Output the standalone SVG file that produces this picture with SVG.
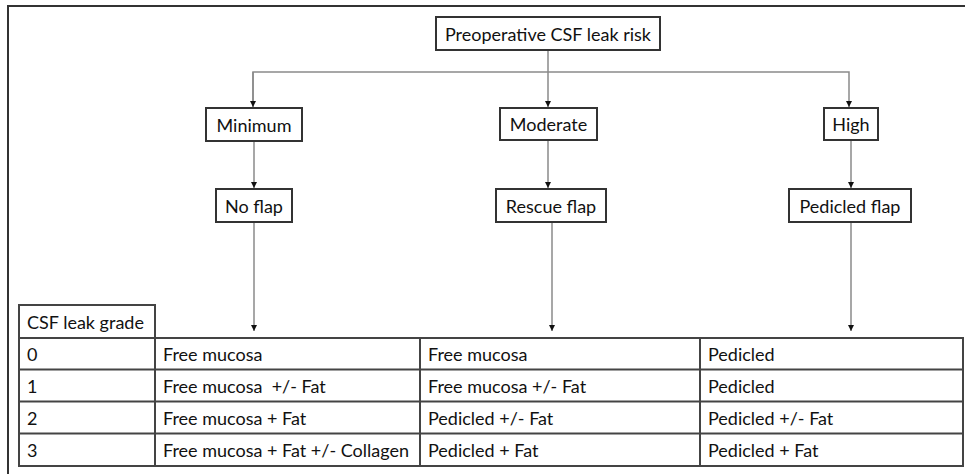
<svg xmlns="http://www.w3.org/2000/svg" width="965" height="474" viewBox="0 0 965 474">
<defs>
<style>
.box{fill:#fff;stroke:#333;stroke-width:2}
.t{font-family:Lato,"Liberation Sans",sans-serif;font-size:18px;fill:#111}
.c{text-anchor:middle}
.con{stroke:#8a8a8a;stroke-width:1.5;fill:none}
.grid{stroke:#444;stroke-width:2;fill:none}
.frame{stroke:#333;stroke-width:2;fill:none}
</style>
<marker id="ah" viewBox="0 0 6 6" refX="6" refY="3" markerWidth="6" markerHeight="6" markerUnits="userSpaceOnUse" orient="auto">
<path d="M0,0 L6,3 L0,6 z" fill="#111"/>
</marker>
</defs>
<rect width="965" height="474" fill="#fff"/>
<path class="frame" d="M965,6 L8,6 L8,474"/>

<g id="connectors">
<path class="con" d="M548,50 L548,107" marker-end="url(#ah)"/>
<path class="con" d="M253,107 L253,72 L849,72 L849,107" marker-end="url(#ah)"/>
<path class="con" d="M253,72 L253,107" marker-end="url(#ah)"/>
<path class="con" d="M254,141 L254,188" marker-end="url(#ah)"/>
<path class="con" d="M548,140 L548,188" marker-end="url(#ah)"/>
<path class="con" d="M851,140 L851,188" marker-end="url(#ah)"/>
<path class="con" d="M254,222 L254,331" marker-end="url(#ah)"/>
<path class="con" d="M552,222 L552,331" marker-end="url(#ah)"/>
<path class="con" d="M851,222 L851,331" marker-end="url(#ah)"/>
</g>

<g id="preop">
<rect class="box" x="436" y="17" width="224" height="33"/>
<text class="t c" x="548" y="41">Preoperative CSF leak risk</text>
</g>
<g id="minimum">
<rect class="box" x="206" y="108" width="96" height="33"/>
<text class="t c" x="254" y="131.5">Minimum</text>
</g>
<g id="moderate">
<rect class="box" x="500" y="108" width="97" height="32"/>
<text class="t c" x="548.5" y="131">Moderate</text>
</g>
<g id="high">
<rect class="box" x="824" y="108" width="54" height="32"/>
<text class="t c" x="851" y="131">High</text>
</g>
<g id="noflap">
<rect class="box" x="216" y="189" width="76" height="33"/>
<text class="t c" x="254" y="212.5">No flap</text>
</g>
<g id="rescueflap">
<rect class="box" x="496" y="189" width="110" height="33"/>
<text class="t c" x="551" y="212.5">Rescue flap</text>
</g>
<g id="pedicledflap">
<rect class="box" x="789" y="189" width="122" height="33"/>
<text class="t c" x="850" y="212.5">Pedicled flap</text>
</g>

<g id="table">
<rect class="grid" x="19" y="305" width="136" height="33"/>
<rect class="grid" x="19" y="338" width="944" height="128"/>
<path class="grid" d="M19,369.5 L963,369.5 M19,401.5 L963,401.5 M19,433.5 L963,433.5 M155,338 L155,466 M420,338 L420,466 M700,338 L700,466"/>
<text class="t" x="27" y="328.5">CSF leak grade</text>
<text class="t" x="27" y="361">0</text>
<text class="t" x="27" y="393">1</text>
<text class="t" x="27" y="425">2</text>
<text class="t" x="27" y="457">3</text>
<text class="t" x="163" y="361">Free mucosa</text>
<text class="t" x="163" y="393" xml:space="preserve">Free mucosa  +/- Fat</text>
<text class="t" x="163" y="425">Free mucosa + Fat</text>
<text class="t" x="163" y="457">Free mucosa + Fat +/- Collagen</text>
<text class="t" x="428" y="361">Free mucosa</text>
<text class="t" x="428" y="393">Free mucosa +/- Fat</text>
<text class="t" x="428" y="425">Pedicled +/- Fat</text>
<text class="t" x="428" y="457">Pedicled + Fat</text>
<text class="t" x="708" y="361">Pedicled</text>
<text class="t" x="708" y="393">Pedicled</text>
<text class="t" x="708" y="425">Pedicled +/- Fat</text>
<text class="t" x="708" y="457">Pedicled + Fat</text>
</g>
</svg>
